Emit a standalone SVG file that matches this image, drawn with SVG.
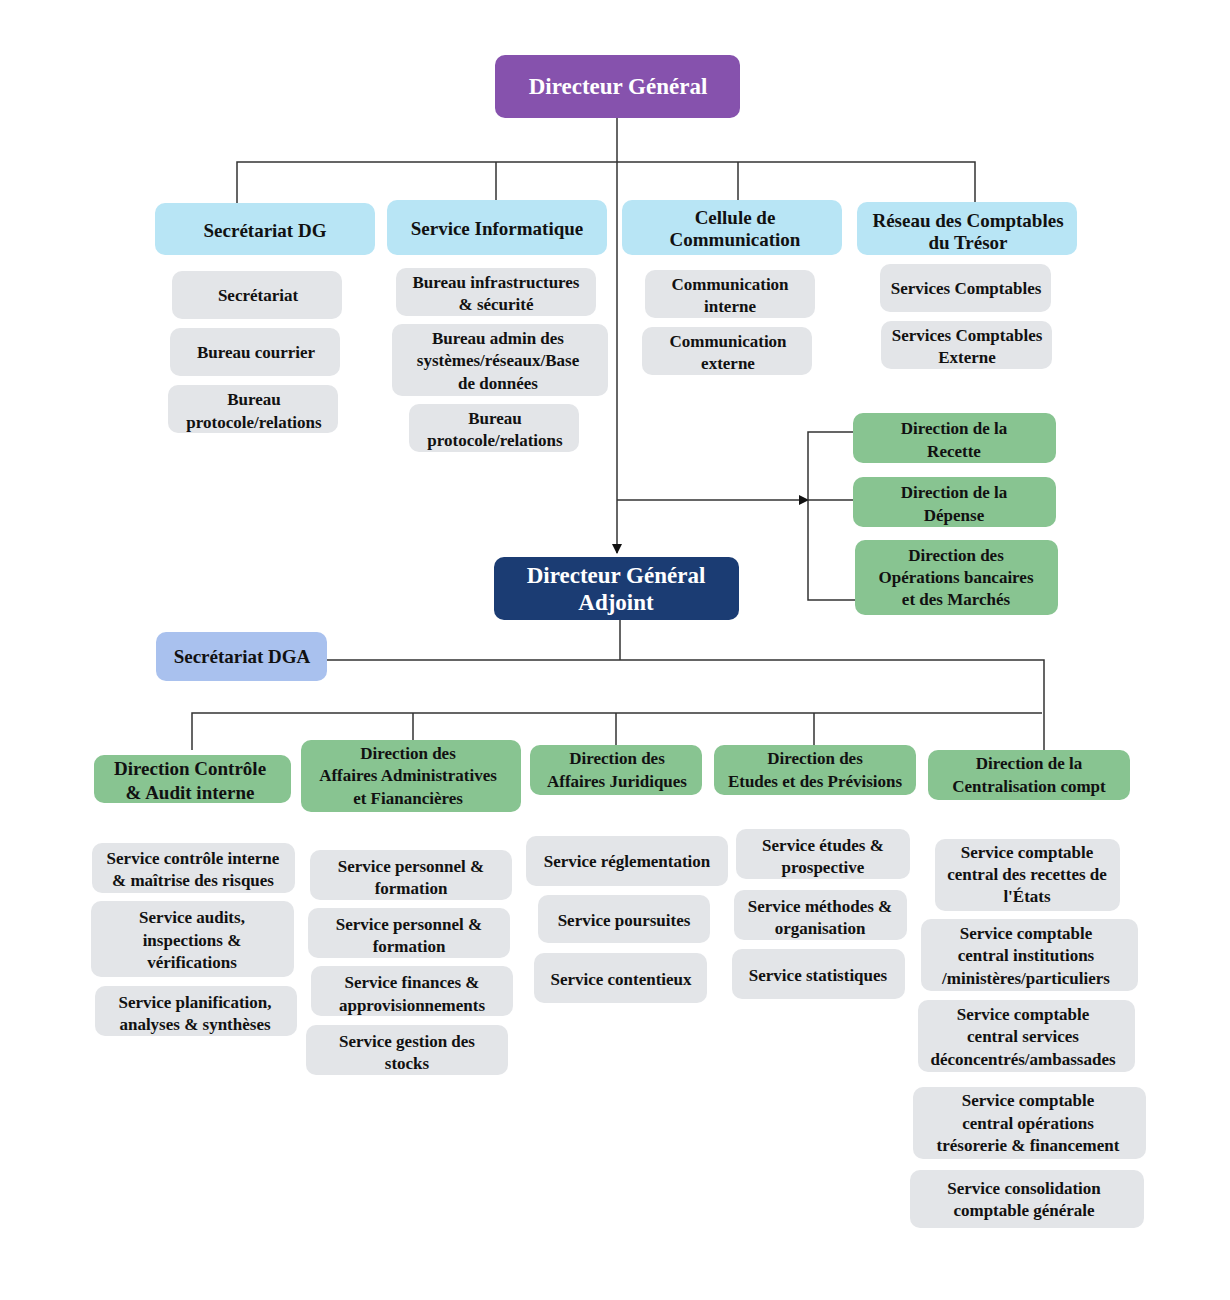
<svg xmlns="http://www.w3.org/2000/svg" width="1230" height="1300" viewBox="0 0 1230 1300">
<defs>
<style>
text{font-family:"Liberation Serif","DejaVu Serif",serif;font-weight:bold;text-anchor:middle;fill:#111}
.w{fill:#fff}
.g rect{fill:#e3e5e8}
.gr rect{fill:#88c491}
.cy rect{fill:#b8e5f5}
.ln{stroke:#333;stroke-width:1.5;fill:none}
</style>
<marker id="a" markerWidth="10" markerHeight="10" refX="9" refY="5" orient="auto" markerUnits="userSpaceOnUse"><path d="M0,0L10,5L0,10z" fill="#111"/></marker>
</defs>
<g id="connectors" class="ln">
<path d="M617,118V553" marker-end="url(#a)"/>
<path d="M237,203V162H975V202M496,162V200M738,162V200"/>
<path d="M617,500H808" marker-end="url(#a)"/>
<path d="M855,432H808V600H855M808,500H853"/>
<path d="M620,620V660M327,660H1044V750"/>
<path d="M192,750V713H1042M413,713V740M616,713V745M814,713V745"/>
</g>
<g id="dg"><rect x="495" y="55" width="245" height="63" rx="10" fill="#8652ad"/><text class="w" x="618" y="94" font-size="23">Directeur Général</text></g>
<g id="dga"><rect x="494" y="557" width="245" height="63" rx="10" fill="#1b3c73"/><text class="w" x="616" y="583" font-size="23">Directeur Général</text><text class="w" x="616" y="610" font-size="23">Adjoint</text></g>
<g class="cy">
<g id="sdg"><rect x="155" y="203" width="220" height="52" rx="10"/><text x="265" y="237" font-size="19">Secrétariat DG</text></g>
<g id="sinf"><rect x="387" y="200" width="220" height="55" rx="10"/><text x="497" y="235" font-size="19">Service Informatique</text></g>
<g id="ccom"><rect x="622" y="200" width="220" height="55" rx="10"/><text x="735" y="224" font-size="19">Cellule de</text><text x="735" y="246" font-size="19">Communication</text></g>
<g id="rct"><rect x="857" y="202" width="220" height="53" rx="10"/><text x="968" y="227" font-size="19">Réseau des Comptables</text><text x="968" y="249" font-size="19">du Trésor</text></g>
</g>
<g id="sdga"><rect x="156" y="632" width="171" height="49" rx="10" fill="#a9c1ee"/><text x="242" y="663" font-size="19">Secrétariat DGA</text></g>
<g class="gr">
<g id="drec"><rect x="853" y="413" width="203" height="50" rx="10"/><text x="954" y="434" font-size="17">Direction de la</text><text x="954" y="457" font-size="17">Recette</text></g>
<g id="ddep"><rect x="853" y="477" width="203" height="50" rx="10"/><text x="954" y="498" font-size="17">Direction de la</text><text x="954" y="521" font-size="17">Dépense</text></g>
<g id="dob"><rect x="855" y="540" width="203" height="75" rx="10"/><text x="956" y="561" font-size="17">Direction des</text><text x="956" y="583" font-size="17">Opérations bancaires</text><text x="956" y="605" font-size="17">et des Marchés</text></g>
<g id="dca"><rect x="94" y="755" width="197" height="48" rx="10"/><text x="190" y="775" font-size="19">Direction Contrôle</text><text x="190" y="799" font-size="19">&amp; Audit interne</text></g>
<g id="daaf"><rect x="301" y="740" width="220" height="72" rx="10"/><text x="408" y="759" font-size="17">Direction des</text><text x="408" y="781" font-size="17">Affaires Administratives</text><text x="408" y="804" font-size="17">et Fianancières</text></g>
<g id="daj"><rect x="530" y="745" width="172" height="50" rx="10"/><text x="617" y="764" font-size="17">Direction des</text><text x="617" y="787" font-size="17">Affaires Juridiques</text></g>
<g id="dep"><rect x="714" y="745" width="202" height="50" rx="10"/><text x="815" y="764" font-size="17">Direction des</text><text x="815" y="787" font-size="17">Etudes et des Prévisions</text></g>
<g id="dcc"><rect x="928" y="750" width="202" height="50" rx="10"/><text x="1029" y="769" font-size="17">Direction de la</text><text x="1029" y="792" font-size="17">Centralisation compt</text></g>
</g>
<g class="g" font-size="17">
<g id="s1"><rect x="172" y="271" width="170" height="48" rx="10"/><text x="258" y="301" font-size="17">Secrétariat</text></g>
<g id="s2"><rect x="170" y="328" width="170" height="48" rx="10"/><text x="256" y="358" font-size="17">Bureau courrier</text></g>
<g id="s3"><rect x="168" y="385" width="170" height="48" rx="10"/><text x="254" y="405" font-size="17">Bureau</text><text x="254" y="428" font-size="17">protocole/relations</text></g>
<g id="i1"><rect x="396" y="268" width="200" height="48" rx="10"/><text x="496" y="288" font-size="17">Bureau infrastructures</text><text x="496" y="310" font-size="17">&amp; sécurité</text></g>
<g id="i2"><rect x="392" y="324" width="216" height="72" rx="10"/><text x="498" y="344" font-size="17">Bureau admin des</text><text x="498" y="366" font-size="17">systèmes/réseaux/Base</text><text x="498" y="389" font-size="17">de données</text></g>
<g id="i3"><rect x="409" y="404" width="170" height="48" rx="10"/><text x="495" y="424" font-size="17">Bureau</text><text x="495" y="446" font-size="17">protocole/relations</text></g>
<g id="c1"><rect x="645" y="270" width="170" height="48" rx="10"/><text x="730" y="290" font-size="17">Communication</text><text x="730" y="312" font-size="17">interne</text></g>
<g id="c2"><rect x="642" y="327" width="170" height="48" rx="10"/><text x="728" y="347" font-size="17">Communication</text><text x="728" y="369" font-size="17">externe</text></g>
<g id="r1"><rect x="880" y="264" width="171" height="48" rx="10"/><text x="966" y="294" font-size="17">Services Comptables</text></g>
<g id="r2"><rect x="881" y="321" width="171" height="48" rx="10"/><text x="967" y="341" font-size="17">Services Comptables</text><text x="967" y="363" font-size="17">Externe</text></g>
<g id="a1"><rect x="92" y="843" width="203" height="50" rx="10"/><text x="193" y="864" font-size="17">Service contrôle interne</text><text x="193" y="886" font-size="17">&amp; maîtrise des risques</text></g>
<g id="a2"><rect x="91" y="901" width="203" height="76" rx="10"/><text x="192" y="923" font-size="17">Service audits,</text><text x="192" y="946" font-size="17">inspections &amp;</text><text x="192" y="968" font-size="17">vérifications</text></g>
<g id="a3"><rect x="95" y="986" width="202" height="50" rx="10"/><text x="195" y="1008" font-size="17">Service planification,</text><text x="195" y="1030" font-size="17">analyses &amp; synthèses</text></g>
<g id="f1"><rect x="310" y="850" width="202" height="50" rx="10"/><text x="411" y="872" font-size="17">Service personnel &amp;</text><text x="411" y="894" font-size="17">formation</text></g>
<g id="f2"><rect x="308" y="908" width="202" height="50" rx="10"/><text x="409" y="930" font-size="17">Service personnel &amp;</text><text x="409" y="952" font-size="17">formation</text></g>
<g id="f3"><rect x="311" y="966" width="202" height="50" rx="10"/><text x="412" y="988" font-size="17">Service finances &amp;</text><text x="412" y="1011" font-size="17">approvisionnements</text></g>
<g id="f4"><rect x="306" y="1025" width="202" height="50" rx="10"/><text x="407" y="1047" font-size="17">Service gestion des</text><text x="407" y="1069" font-size="17">stocks</text></g>
<g id="j1"><rect x="526" y="836" width="202" height="50" rx="10"/><text x="627" y="867" font-size="17">Service réglementation</text></g>
<g id="j2"><rect x="538" y="895" width="172" height="48" rx="10"/><text x="624" y="926" font-size="17">Service poursuites</text></g>
<g id="j3"><rect x="534" y="953" width="173" height="50" rx="10"/><text x="621" y="985" font-size="17">Service contentieux</text></g>
<g id="e1"><rect x="736" y="829" width="174" height="50" rx="10"/><text x="823" y="851" font-size="17">Service études &amp;</text><text x="823" y="873" font-size="17">prospective</text></g>
<g id="e2"><rect x="734" y="890" width="173" height="50" rx="10"/><text x="820" y="912" font-size="17">Service méthodes &amp;</text><text x="820" y="934" font-size="17">organisation</text></g>
<g id="e3"><rect x="732" y="949" width="173" height="50" rx="10"/><text x="818" y="981" font-size="17">Service statistiques</text></g>
<g id="k1"><rect x="935" y="839" width="185" height="72" rx="10"/><text x="1027" y="858" font-size="17">Service comptable</text><text x="1027" y="880" font-size="17">central des recettes de</text><text x="1027" y="902" font-size="17">l'États</text></g>
<g id="k2"><rect x="921" y="919" width="217" height="72" rx="10"/><text x="1026" y="939" font-size="17">Service comptable</text><text x="1026" y="961" font-size="17">central institutions</text><text x="1026" y="984" font-size="17">/ministères/particuliers</text></g>
<g id="k3"><rect x="918" y="1000" width="217" height="72" rx="10"/><text x="1023" y="1020" font-size="17">Service comptable</text><text x="1023" y="1042" font-size="17">central services</text><text x="1023" y="1065" font-size="17">déconcentrés/ambassades</text></g>
<g id="k4"><rect x="913" y="1087" width="233" height="72" rx="10"/><text x="1028" y="1106" font-size="17">Service comptable</text><text x="1028" y="1129" font-size="17">central opérations</text><text x="1028" y="1151" font-size="17">trésorerie &amp; financement</text></g>
<g id="k5"><rect x="910" y="1170" width="234" height="58" rx="10"/><text x="1024" y="1194" font-size="17">Service consolidation</text><text x="1024" y="1216" font-size="17">comptable générale</text></g>
</g>
</svg>
